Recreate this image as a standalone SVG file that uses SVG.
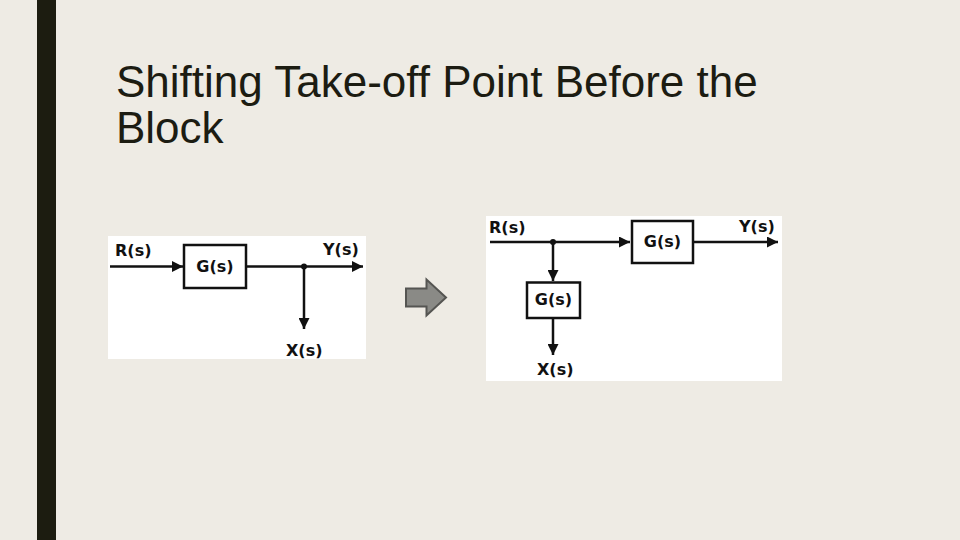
<svg xmlns="http://www.w3.org/2000/svg" width="960" height="540" viewBox="0 0 960 540">
<style>
.title{font-family:"Liberation Sans",Arial,sans-serif;font-size:44px;fill:#1c1c12}
.lbl{font-family:"DejaVu Sans",Verdana,sans-serif;font-weight:bold;font-size:16px;fill:#111}
.blk{fill:#fff;stroke:#111;stroke-width:2.5}
.ln{stroke:#111;stroke-width:2.5;fill:none}
.panel{fill:#fff}
</style>
<defs>
<marker id="ah" viewBox="0 0 10 10" refX="10" refY="5" markerWidth="11" markerHeight="11" markerUnits="userSpaceOnUse" orient="auto">
<path d="M0,0 L10,5 L0,10 Z" fill="#111"/>
</marker>
</defs>
<rect width="960" height="540" fill="#eeebe4"/>
<rect x="37" y="0" width="19" height="540" fill="#1c1c10"/>
<text class="title" x="116" y="97">Shifting Take-off Point Before the</text>
<text class="title" x="116" y="143">Block</text>

<g id="left-diagram">
<rect class="panel" x="108" y="236" width="258" height="123"/>
<g id="left-labels">
<text class="lbl" x="115" y="256">R(s)</text>
<text class="lbl" x="323" y="255">Y(s)</text>
<text class="lbl" x="286" y="356">X(s)</text>
</g>
<g id="left-G">
<rect class="blk" x="184" y="245" width="62" height="43"/>
<text class="lbl" x="215" y="272" text-anchor="middle">G(s)</text>
</g>
<g id="left-junction"><circle cx="304" cy="266.5" r="3" fill="#111"/></g>
</g>

<g id="right-diagram">
<rect class="panel" x="486" y="216" width="296" height="165"/>
<g id="right-labels">
<text class="lbl" x="489" y="233">R(s)</text>
<text class="lbl" x="739" y="232">Y(s)</text>
<text class="lbl" x="537" y="375">X(s)</text>
</g>
<g id="right-G1">
<rect class="blk" x="632" y="221" width="61" height="42"/>
<text class="lbl" x="662.5" y="247" text-anchor="middle">G(s)</text>
</g>
<g id="right-G2">
<rect class="blk" x="527" y="282.5" width="53" height="35.5"/>
<text class="lbl" x="553.5" y="305" text-anchor="middle">G(s)</text>
</g>
<g id="right-junction"><circle cx="553" cy="242" r="3" fill="#111"/></g>
</g>

<g id="transform-arrow">
<path d="M406,288.5 H426.5 V279.5 L446,297.5 L426.5,315.5 V306.5 H406 Z" fill="#8a8a86" stroke="#555552" stroke-width="2"/>
</g>

<g id="connectors">
<line class="ln" x1="110" y1="266.5" x2="183" y2="266.5" marker-end="url(#ah)"/>
<line class="ln" x1="246" y1="266.5" x2="363" y2="266.5" marker-end="url(#ah)"/>
<line class="ln" x1="304" y1="266.5" x2="304" y2="329" marker-end="url(#ah)"/>
<line class="ln" x1="490" y1="242" x2="630" y2="242" marker-end="url(#ah)"/>
<line class="ln" x1="693" y1="242" x2="778" y2="242" marker-end="url(#ah)"/>
<line class="ln" x1="553" y1="242" x2="553" y2="281" marker-end="url(#ah)"/>
<line class="ln" x1="553" y1="318" x2="553" y2="355" marker-end="url(#ah)"/>
</g>
</svg>
